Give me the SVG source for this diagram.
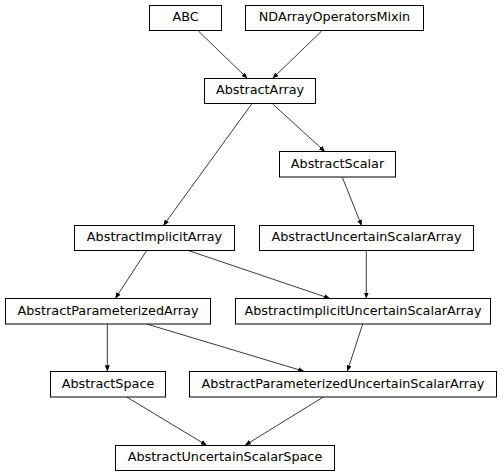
<svg xmlns="http://www.w3.org/2000/svg" width="503" height="476" viewBox="0 0 503 476">
<style>
.n rect{fill:#fff;stroke:#000;stroke-width:1}
.n text{font-family:"DejaVu Sans",sans-serif;font-size:12.8px;fill:#000;text-anchor:middle}
#edges path{fill:none;stroke:#222;stroke-width:0.9;marker-end:url(#ah)}
</style>
<defs>
<marker id="ah" viewBox="0 0 6 5" refX="6" refY="2.5" markerWidth="6" markerHeight="5" markerUnits="userSpaceOnUse" orient="auto">
<path d="M0,0 L6,2.5 L0,5 z" fill="#000"/>
</marker>
</defs>
<rect width="503" height="476" fill="#fff"/>
<g id="edges">
<path d="M198,30.7 L247.3,78.3"/>
<path d="M322,30.7 L272.7,78.3"/>
<path d="M251.7,104 L163.3,225.7"/>
<path d="M272.7,104 L325,151.7"/>
<path d="M342.3,177.3 L361.7,225.7"/>
<path d="M146.7,250.5 L115.3,298.5"/>
<path d="M188.3,250.5 L330,298.5"/>
<path d="M366.3,250.5 L366.3,298.5"/>
<path d="M107.3,324 L107.3,371.3"/>
<path d="M146.7,324 L304,371.3"/>
<path d="M362.7,324 L347.3,371.3"/>
<path d="M126.7,397 L206.7,445.3"/>
<path d="M323.3,397 L245,445.3"/>
</g>
<g id="ABC" class="n"><rect x="149.5" y="5.5" width="72" height="25"/><text x="185.5" y="21.4">ABC</text></g>
<g id="NDArrayOperatorsMixin" class="n"><rect x="245.5" y="5.5" width="178" height="25"/><text x="334.5" y="21.4">NDArrayOperatorsMixin</text></g>
<g id="AbstractArray" class="n"><rect x="204.5" y="78.5" width="111" height="25"/><text x="260" y="94.4">AbstractArray</text></g>
<g id="AbstractScalar" class="n"><rect x="279.5" y="151.5" width="116" height="25.5"/><text x="337.5" y="167.6">AbstractScalar</text></g>
<g id="AbstractImplicitArray" class="n"><rect x="74.5" y="225.5" width="160" height="25"/><text x="154.5" y="241.4">AbstractImplicitArray</text></g>
<g id="AbstractUncertainScalarArray" class="n"><rect x="259.5" y="225.5" width="214" height="25"/><text x="366.5" y="241.4">AbstractUncertainScalarArray</text></g>
<g id="AbstractParameterizedArray" class="n"><rect x="5.5" y="298.5" width="205" height="25.5"/><text x="108" y="314.6">AbstractParameterizedArray</text></g>
<g id="AbstractImplicitUncertainScalarArray" class="n"><rect x="235.5" y="298.5" width="255" height="25.5"/><text x="363" y="314.6">AbstractImplicitUncertainScalarArray</text></g>
<g id="AbstractSpace" class="n"><rect x="50.5" y="371.5" width="115" height="25.5"/><text x="108" y="387.5">AbstractSpace</text></g>
<g id="AbstractParameterizedUncertainScalarArray" class="n"><rect x="189.5" y="371.5" width="307" height="25.5"/><text x="343" y="387.5">AbstractParameterizedUncertainScalarArray</text></g>
<g id="AbstractUncertainScalarSpace" class="n"><rect x="115.5" y="445.5" width="219" height="25"/><text x="225" y="461.4">AbstractUncertainScalarSpace</text></g>
</svg>
